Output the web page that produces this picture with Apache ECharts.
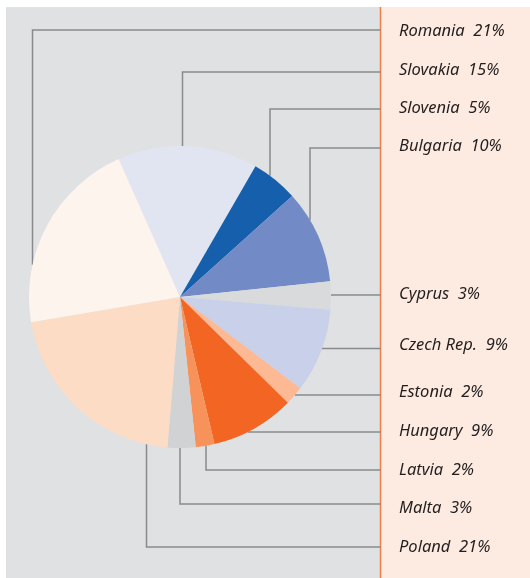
<!DOCTYPE html>
<html>
<head>
<meta charset="utf-8">
<script src="https://cdn.jsdelivr.net/npm/echarts@6/dist/echarts.min.js"></script>
<style>
  html, body { margin: 0; padding: 0; background: #fff; }
  #chart { width: 530px; height: 578px; }
</style>
</head>
<body>
<div id="chart"></div>
<script>
// data
var countries = ['Slovakia', 'Slovenia', 'Bulgaria', 'Cyprus', 'Czech Rep.', 'Estonia', 'Hungary', 'Latvia', 'Malta', 'Poland', 'Romania'];
var shares = [15, 5, 10, 3, 9, 2, 9, 2, 3, 21, 21];
var colors = ['#e1e5f2', '#155fad', '#728ac6', '#d9dadc', '#c8d0ea', '#fcb993', '#f26522', '#f7925a', '#d1d2d4', '#fcdcc5', '#fef4ee'];

// leader line layout: anchorX = vertical drop to pie edge (null -> horizontal line), lineY = where it reaches the labels
var anchorX = [182.5, 270, 310, null, null, null, null, 206, 180, 146.5, 32.5];
var lineY = [72, 109, 148, 295, 348.5, 395, 432, 470, 504, 547, 30];
var labelY = [70, 108, 146, 294, 345, 392, 431, 470, 508, 547, 31];

var cx = 180, cy = 297, r = 151, edgeX = 380.5;

var myChart = echarts.init(document.getElementById('chart'));

function leader(i) {
    var ly = lineY[i], ax = anchorX[i];
    if (ax === null) {
        var sx = cx + Math.sqrt(r * r - (ly - cy) * (ly - cy));
        return [[sx, ly], [sx + 1, ly], [edgeX, ly]];
    }
    var d = Math.sqrt(r * r - (ax - cx) * (ax - cx));
    var sy = ly < cy ? cy - d : cy + d;
    return [[ax, sy], [ax, ly], [edgeX, ly]];
}

var option = {
    animation: false,
    graphic: [
        {type: 'rect', z: -10, shape: {x: 6, y: 7, width: 375, height: 571}, style: {fill: '#e0e1e3'}},
        {type: 'rect', z: -10, shape: {x: 381, y: 7, width: 149, height: 571}, style: {fill: '#fdebe1'}},
        {type: 'line', z: -9, shape: {x1: 380.5, y1: 7, x2: 380.5, y2: 578}, style: {stroke: '#f0804a', lineWidth: 1.5}}
    ],
    series: [
        {
            type: 'pie',
            z: 2,
            center: [cx, cy],
            radius: r,
            startAngle: 114,
            clockwise: true,
            avoidLabelOverlap: false,
            silent: true,
            itemStyle: {borderWidth: 0},
            label: {
                show: true,
                position: 'outer',
                alignTo: 'none',
                formatter: function (p) { return p.name + '  ' + p.value + '%'; },
                fontFamily: 'Noto Sans',
                fontStyle: 'italic',
                fontSize: 16.5,
                color: '#231f20'
            },
            labelLine: {
                show: true,
                smooth: false,
                lineStyle: {color: '#8a8a8c', width: 1.5}
            },
            labelLayout: function (params) {
                var i = params.dataIndex;
                return {
                    x: 399,
                    y: labelY[i],
                    align: 'left',
                    verticalAlign: 'middle',
                    labelLinePoints: leader(i)
                };
            },
            data: countries.map(function (name, i) {
                return {name: name, value: shares[i], itemStyle: {color: colors[i]}};
            })
        }
    ]
};
myChart.setOption(option);
</script>
</body>
</html>
